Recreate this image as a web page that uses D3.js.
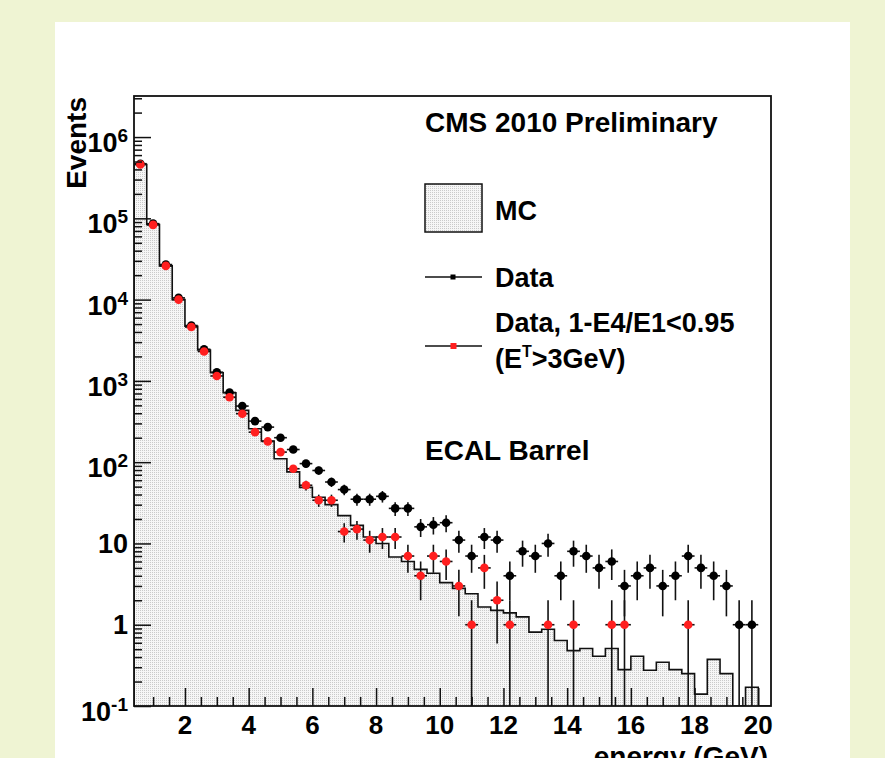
<!DOCTYPE html>
<html>
<head>
<meta charset="utf-8">
<script src="https://cdn.jsdelivr.net/npm/d3@7"></script>
<style>
  html, body { margin: 0; padding: 0; background: #eff4d3; }
  svg { display: block; }
  text { font-family: "Liberation Sans", Arial, Helvetica, sans-serif; font-weight: bold; fill: #000; }
</style>
</head>
<body>
<div id="chart"></div>
<script>
// bin centres (GeV), bins are 0.4 GeV wide from 0.4 to 20.4
const energyBins = [0.6, 1.0, 1.4, 1.8, 2.2, 2.6, 3.0, 3.4, 3.8, 4.2,
    4.6, 5.0, 5.4, 5.8, 6.2, 6.6, 7.0, 7.4, 7.8, 8.2,
    8.6, 9.0, 9.4, 9.8, 10.2, 10.6, 11.0, 11.4, 11.8, 12.2,
    12.6, 13.0, 13.4, 13.8, 14.2, 14.6, 15.0, 15.4, 15.8, 16.2,
    16.6, 17.0, 17.4, 17.8, 18.2, 18.6, 19.0, 19.4, 19.8, 20.2];
const binWidth = 0.4;

const mcEvents = [4.6e5, 8.4e4, 2.6e4, 1.0e4, 4.7e3, 2.4e3, 1260, 716, 434, 258,
    182, 110, 76, 49, 37, 30, 22, 16.7, 12, 10,
    6.8, 6.0, 4.8, 4.3, 3.3, 2.8, 2.4, 1.65, 1.5, 1.4,
    1.25, 0.81, 0.88, 0.64, 0.48, 0.51, 0.41, 0.51, 0.28, 0.41,
    0.275, 0.345, 0.28, 0.25, 0.14, 0.375, 0.25, 0, 0.17, 0];

const dataEvents = [4.7e5, 8.6e4, 2.7e4, 1.05e4, 4.8e3, 2.45e3, 1280, 720, 490, 320,
    270, 200, 143, 96, 79, 57, 46, 35, 35, 38,
    27, 27, 16, 17, 18, 11, 7, 12, 11, 4,
    8, 7, 10, 4, 8, 7, 5, 6, 3, 4,
    5, 3, 4, 7, 5, 4, 3, 1, 1, 0];

const cleanedEvents = [4.6e5, 8.3e4, 2.6e4, 1.0e4, 4.6e3, 2.3e3, 1150, 630, 395, 234,
    180, 133, 83, 52, 34, 34, 14, 15, 11, 12,
    12, 7, 4, 7, 6, 3, 1, 5, 2, 1,
    0, 0, 1, 0, 1, 0, 0, 1, 1, 0,
    0, 0, 0, 1, 0, 0, 0, 0, 0, 0];

const xTicks = [2, 4, 6, 8, 10, 12, 14, 16, 18, 20];
const yTicks = [0.1, 1, 10, 100, 1e3, 1e4, 1e5, 1e6];
const yTickLabels = [["10", "-1"], ["1", ""], ["10", ""], ["10", "2"], ["10", "3"],
    ["10", "4"], ["10", "5"], ["10", "6"]];

const width = 885, height = 758;
const frame = {left: 134, right: 771, top: 96, bottom: 706};

const svg = d3.select("#chart").append("svg")
    .attr("width", width)
    .attr("height", height);

// dotted fill like ROOT's fill style
const defs = svg.append("defs");
const pat = defs.append("pattern")
    .attr("id", "dots")
    .attr("width", 2).attr("height", 2)
    .attr("patternUnits", "userSpaceOnUse");
pat.append("rect").attr("width", 2).attr("height", 2).attr("fill", "#f6f6f6");
pat.append("rect").attr("width", 1).attr("height", 1).attr("fill", "#cacaca");

defs.append("clipPath").attr("id", "plotclip")
    .append("rect")
    .attr("x", frame.left).attr("y", frame.top)
    .attr("width", frame.right - frame.left)
    .attr("height", frame.bottom - frame.top);

svg.append("rect").attr("width", width).attr("height", height).attr("fill", "#eff4d3");
svg.append("rect").attr("x", 55).attr("y", 22).attr("width", 795).attr("height", 740).attr("fill", "#fff");

const x = d3.scaleLinear().domain([0.4, 20.4]).range([frame.left, frame.right]);
const y = d3.scaleLog().domain([0.1, 3.2e6]).range([frame.bottom, frame.top]);
const yv = v => y(Math.max(v, 0.1));

// MC histogram
const steps = [[0.4, 0.1]];
energyBins.forEach((c, i) => steps.push([c - binWidth / 2, mcEvents[i]]));
steps.push([20.4, mcEvents[mcEvents.length - 1]]);
steps.push([20.4, 0.1]);

const plot = svg.append("g").attr("clip-path", "url(#plotclip)");

plot.append("path")
    .datum(steps)
    .attr("fill", "url(#dots)")
    .attr("d", d3.area().curve(d3.curveStepAfter)
        .x(d => x(d[0])).y0(frame.bottom).y1(d => yv(d[1])));

plot.append("path")
    .datum(steps)
    .attr("fill", "none")
    .attr("stroke", "#111")
    .attr("stroke-width", 1.6)
    .attr("d", d3.line().curve(d3.curveStepAfter)
        .x(d => x(d[0])).y(d => yv(d[1])));

function drawPoints(values, color) {
    const pts = energyBins.map((c, i) => ({e: c, n: values[i]})).filter(d => d.n > 0);
    const g = plot.append("g");
    g.selectAll(".ev").data(pts).join("line")
        .attr("x1", d => x(d.e)).attr("x2", d => x(d.e))
        .attr("y1", d => yv(d.n + Math.sqrt(d.n)))
        .attr("y2", d => d.n - Math.sqrt(d.n) > 0 ? yv(d.n - Math.sqrt(d.n)) : frame.bottom)
        .attr("stroke", "#111").attr("stroke-width", 1.6);
    g.selectAll(".eh").data(pts).join("line")
        .attr("x1", d => x(d.e - binWidth / 2)).attr("x2", d => x(d.e + binWidth / 2))
        .attr("y1", d => yv(d.n)).attr("y2", d => yv(d.n))
        .attr("stroke", "#111").attr("stroke-width", 1.6);
    g.selectAll("circle").data(pts).join("circle")
        .attr("cx", d => x(d.e)).attr("cy", d => yv(d.n))
        .attr("r", 4.3)
        .attr("fill", color);
}
drawPoints(dataEvents, "#000");
drawPoints(cleanedEvents, "#ff1f1f");

// axes (ticks drawn inside the frame)
const yMinor = [];
for (let k = -1; k <= 6; k++) {
    for (let m = 2; m <= 9; m++) {
        const v = m * Math.pow(10, k);
        if (v < 3.2e6) yMinor.push(v);
    }
}
const xMinor = d3.range(1, 20.01, 0.5).filter(v => v % 2 !== 0);

const axisStyle = g => {
    g.select(".domain").remove();
    g.selectAll("line").attr("stroke", "#111").attr("stroke-width", 1.5);
};

svg.append("g").attr("transform", `translate(${frame.left},0)`)
    .call(d3.axisLeft(y).tickValues(yTicks).tickSize(-17).tickFormat(""))
    .call(axisStyle);
svg.append("g").attr("transform", `translate(${frame.left},0)`)
    .call(d3.axisLeft(y).tickValues(yMinor).tickSize(-8).tickFormat(""))
    .call(axisStyle);
svg.append("g").attr("transform", `translate(0,${frame.bottom})`)
    .call(d3.axisBottom(x).tickValues(xTicks).tickSize(-18).tickFormat(""))
    .call(axisStyle);
svg.append("g").attr("transform", `translate(0,${frame.bottom})`)
    .call(d3.axisBottom(x).tickValues(xMinor).tickSize(-9).tickFormat(""))
    .call(axisStyle);

svg.append("rect")
    .attr("x", frame.left).attr("y", frame.top)
    .attr("width", frame.right - frame.left)
    .attr("height", frame.bottom - frame.top)
    .attr("fill", "none")
    .attr("stroke", "#111")
    .attr("stroke-width", 1.8);

// y tick labels
yTicks.forEach((v, i) => {
    const [base, sup] = yTickLabels[i];
    const t = svg.append("text")
        .attr("x", 128)
        .attr("y", y(v) + (sup ? 15 : 9.5))
        .attr("text-anchor", "end")
        .attr("font-size", 27)
        .text(base);
    if (sup) {
        t.append("tspan").attr("dy", -10).attr("font-size", 19).text(sup);
    }
});

// x tick labels
svg.selectAll(".xl").data(xTicks).join("text")
    .attr("x", d => x(d))
    .attr("y", 734)
    .attr("text-anchor", "middle")
    .attr("font-size", 26)
    .text(d => d);

// axis titles
svg.append("text")
    .attr("transform", "translate(86,97) rotate(-90)")
    .attr("text-anchor", "end")
    .attr("font-size", 28)
    .text("Events");
svg.append("text")
    .attr("x", 768).attr("y", 766)
    .attr("text-anchor", "end")
    .attr("font-size", 28)
    .text("energy (GeV)");

// legend
svg.append("text").attr("x", 425).attr("y", 132).attr("font-size", 28).text("CMS 2010 Preliminary");

svg.append("rect")
    .attr("x", 425).attr("y", 184).attr("width", 57).attr("height", 48)
    .attr("fill", "url(#dots)").attr("stroke", "#111").attr("stroke-width", 1.5);
svg.append("text").attr("x", 495).attr("y", 220).attr("font-size", 27).text("MC");

svg.append("line").attr("x1", 425).attr("x2", 482).attr("y1", 277).attr("y2", 277)
    .attr("stroke", "#111").attr("stroke-width", 1.5);
svg.append("rect").attr("x", 450.5).attr("y", 274.5).attr("width", 5).attr("height", 5).attr("fill", "#000");
svg.append("text").attr("x", 495).attr("y", 287).attr("font-size", 27).text("Data");

svg.append("line").attr("x1", 425).attr("x2", 482).attr("y1", 346).attr("y2", 346)
    .attr("stroke", "#111").attr("stroke-width", 1.5);
svg.append("rect").attr("x", 450.5).attr("y", 343).attr("width", 6).attr("height", 6).attr("fill", "#ff1f1f");
svg.append("text").attr("x", 495).attr("y", 332).attr("font-size", 27).text("Data, 1-E4/E1<0.95");
const et = svg.append("text").attr("x", 495).attr("y", 368).attr("font-size", 27).text("(E");
et.append("tspan").attr("dy", -11).attr("font-size", 16).text("T");
et.append("tspan").attr("dy", 11).text(">3GeV)");

svg.append("text").attr("x", 425).attr("y", 460).attr("font-size", 28).text("ECAL Barrel");
</script>
</body>
</html>
